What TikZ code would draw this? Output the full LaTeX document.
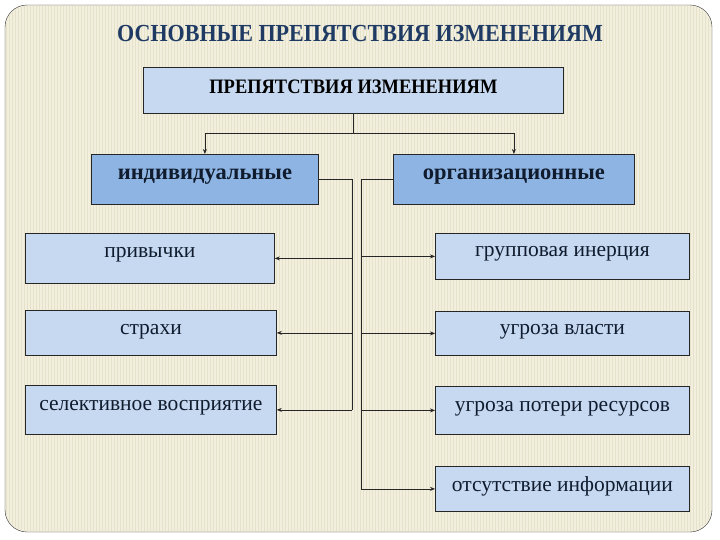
\documentclass[tikz,border=0pt]{standalone}
\usepackage{fontspec}
\setmainfont{Liberation Serif}
\newfontfamily\headfont[FakeStretch=0.9]{Liberation Serif}
\usetikzlibrary{arrows.meta,patterns,positioning}
\definecolor{slidecream}{HTML}{F2EFDF}
\definecolor{stripecream}{HTML}{E6E1C9}
\definecolor{paleblue}{HTML}{C6D9F1}
\definecolor{midblue}{HTML}{8EB4E3}
\definecolor{titleblue}{HTML}{1F3B64}
\definecolor{inkblue}{HTML}{101C2E}
\tikzset{
  box/.style={draw=black!85,line width=0.8pt,anchor=north west,inner sep=0pt,
    text height=24pt,align=center,text=inkblue,font=\fontsize{21.5}{24}\selectfont},
  headbox/.style={box,fill=midblue,font=\bfseries\fontsize{22.5}{26}\selectfont},
  itembox/.style={box,fill=paleblue},
  link/.style={black!85,line width=0.7pt},
  arr/.style={link,-{Stealth[length=5pt,width=4pt]}}
}

\begin{document}
\begin{tikzpicture}[x=1pt,y=-1pt]
  \useasboundingbox (0,0) rectangle (720,540);
  % Slide frame
  \draw[fill=slidecream,draw=black!80,rounded corners=22pt] (5,5) rectangle (712,532);
  \fill[pattern=vertical lines,pattern color=stripecream,rounded corners=22pt] (6,6) rectangle (711,531);
  % Title
  \node[font=\headfont\bfseries\fontsize{24.5}{28}\selectfont,text=titleblue] (title) at (360,34) {ОСНОВНЫЕ ПРЕПЯТСТВИЯ ИЗМЕНЕНИЯМ};
  % Top box
  \node[itembox,minimum width=420pt,text height=26pt,text depth=20pt,
    font=\headfont\bfseries\fontsize{20.5}{24}\selectfont,text=black] (top) at (143,67) {ПРЕПЯТСТВИЯ ИЗМЕНЕНИЯМ};
  % Two groups
  \node[headbox,minimum width=227pt,text height=25pt,text depth=25pt] (ind) at (91,154) {индивидуальные};
  \node[headbox,minimum width=241pt,text height=25pt,text depth=25pt] (org) at (393,154) {организационные};
  % Individual obstacles
  \node[itembox,minimum width=249pt,text depth=26pt] (hab) at (25,233) {привычки};
  \node[itembox,minimum width=251pt,text depth=21pt] (fear) at (25,310) {страхи};
  \node[itembox,minimum width=251pt,text height=25pt,text depth=24pt] (sel) at (25,385) {селективное восприятие};
  % Organizational obstacles
  \node[itembox,minimum width=254pt,text height=23pt,text depth=23pt] (inert) at (435,233) {групповая инерция};
  \node[itembox,minimum width=254pt,text height=23pt,text depth=21pt] (power) at (435,311) {угроза власти};
  \node[itembox,minimum width=254pt,text height=25pt,text depth=23pt] (res) at (435,386) {угроза потери ресурсов};
  \node[itembox,minimum width=254pt,text height=25pt,text depth=20pt] (info) at (435,466) {отсутствие информации};
  % Connectors
  \draw[link] (top.south) -- ++(0,20) coordinate (split);
  \draw[arr] (split) -| (ind.north);
  \draw[arr] (split) -| (org.north);
  \coordinate (lbus) at (352,0);
  \coordinate (rbus) at (361,0);
  \draw[link] (ind.east) -| (lbus |- sel.east);
  \foreach \n in {hab,fear,sel}
    \draw[arr] (lbus |- \n.east) -- (\n.east);
  \draw[link] (org.west) -| (rbus |- info.west);
  \foreach \n in {inert,power,res,info}
    \draw[arr] (rbus |- \n.west) -- (\n.west);
\end{tikzpicture}
\end{document}
